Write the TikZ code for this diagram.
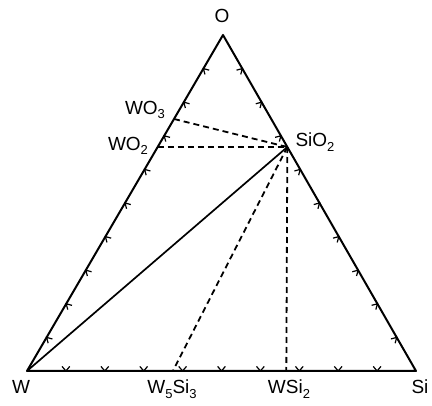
\documentclass[tikz,border=0pt]{standalone}
\usepackage{fontspec}
\setmainfont{Liberation Sans}
\usetikzlibrary{calc}
\newcommand\lowsub[1]{\raisebox{-0.45ex}{\fontsize{13}{14}\selectfont #1}}
\begin{document}
\begin{tikzpicture}[x=1pt,y=-1pt,
  edge/.style={line width=2pt,line join=round},
  tie/.style={line width=1.8pt,dash pattern=on 6pt off 4pt},
  solidtie/.style={line width=1.7pt},
  tick/.style={line width=1.2pt},
  lbl/.style={font=\fontsize{19}{21}\selectfont,inner sep=0pt}]
\useasboundingbox (0,0) rectangle (432,406);
\coordinate (W) at (27,371);
\coordinate (Si) at (416,371);
\coordinate (O) at (223,35);
\coordinate (SiO2) at ($(Si)!2/3!(O)$);
\coordinate (WO2) at ($(W)!2/3!(O)$);
\coordinate (WO3) at ($(W)!3/4!(O)$);
\coordinate (W5Si3) at ($(W)!3/8!(Si)$);
\coordinate (WSi2) at ($(W)!2/3!(Si)$);
% ties
\draw[tie] (WO3) -- (SiO2);
\draw[tie] (WO2) -- (SiO2);
\draw[tie] (SiO2) -- (W5Si3);
\draw[tie] (SiO2) -- (WSi2);
\draw[solidtie] (W) -- (SiO2);
% triangle
\draw[edge] (W) -- (Si) -- (O) -- cycle;
% ticks
\foreach \i in {1,...,9}{
  \draw[tick] ($(W)!\i/10!(Si)$) ++(-50:6) -- ($(W)!\i/10!(Si)$) -- ++(-130:6);
  \draw[tick] ($(W)!\i/10!(O)$) ++(15:6) -- ($(W)!\i/10!(O)$) -- ++(75:6);
  \draw[tick] ($(Si)!\i/10!(O)$) ++(165:6) -- ($(Si)!\i/10!(O)$) -- ++(105:6);
}
% labels
\node[lbl] (lO) at (222,16) {O};
\node[lbl] (lWO3) at (145,110) {WO\lowsub{3}};
\node[lbl] (lWO2) at (128,146) {WO\lowsub{2}};
\node[lbl] (lSiO2) at (315,142) {SiO\lowsub{2}};
\node[lbl] (lW) at (21,387) {W};
\node[lbl] (lW5Si3) at (172,389) {W\lowsub{5}Si\lowsub{3}};
\node[lbl] (lWSi2) at (289,389) {WSi\lowsub{2}};
\node[lbl] (lSi) at (420,387) {Si};
\end{tikzpicture}
\end{document}
